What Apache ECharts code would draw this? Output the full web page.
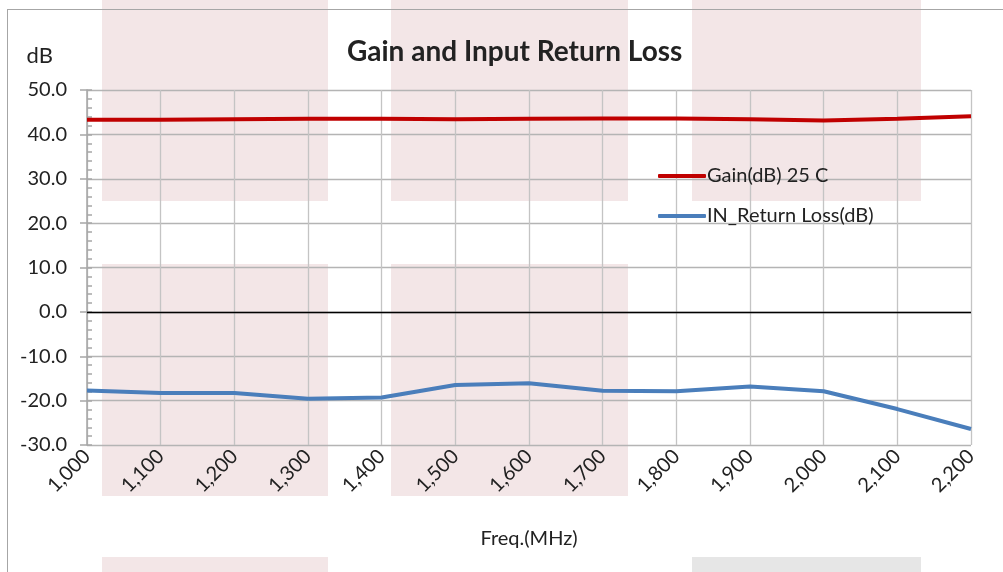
<!DOCTYPE html>
<html>
<head>
<meta charset="utf-8">
<script src="https://cdn.jsdelivr.net/npm/echarts@6/dist/echarts.min.js"></script>
<style>
html,body{margin:0;padding:0;background:#fff;overflow:hidden}
#wrap{position:relative;width:1003px;height:572px}
#c{width:1003px;height:572px}
#frame{position:absolute;left:7px;top:9px;width:1100px;height:700px;border-top:1.5px solid #a6a6a6;border-left:1.5px solid #a6a6a6;pointer-events:none;box-sizing:border-box}
</style>
</head>
<body>
<div id="wrap"><div id="c"></div><div id="frame"></div></div>
<script>
const freqs = [1000, 1100, 1200, 1300, 1400, 1500, 1600, 1700, 1800, 1900, 2000, 2100, 2200];
const gain = [43.3, 43.3, 43.4, 43.5, 43.5, 43.4, 43.5, 43.6, 43.6, 43.4, 43.1, 43.5, 44.1];
const returnLoss = [-17.7, -18.3, -18.3, -19.6, -19.3, -16.5, -16.1, -17.8, -17.9, -16.8, -17.9, -21.9, -26.4];
const seriesNames = ['Gain(dB) 25 C', 'IN_Return Loss(dB)'];
const titleText = 'Gain and Input Return Loss';
const yName = 'dB';
const xName = 'Freq.(MHz)';

const FONT = 'Lato, "Noto Sans", sans-serif';
const chart = echarts.init(document.getElementById('c'));
const pink = '#f3e6e7';
const bgRects = [
  [102, 0, 226, 201, pink], [391, 0, 237, 201, pink], [692, 0, 229, 201, pink],
  [102, 264, 226, 232, pink], [391, 264, 237, 232, pink],
  [102, 557, 226, 20, pink], [692, 557, 229, 20, '#e6e6e6']
];
const graphics = bgRects.map(r => ({
  type: 'rect', z: -10, silent: true,
  shape: {x: r[0], y: r[1], width: r[2], height: r[3]},
  style: {fill: r[4]}
}));

chart.setOption({
  backgroundColor: '#fff',
  animation: false,
  graphic: {elements: graphics},
  title: {text: titleText, left: 342, top: 33,
    textStyle: {fontFamily: FONT, fontWeight: 'bold', fontSize: 28, color: '#222'}},
  legend: {
    orient: 'vertical', left: 653, top: 161, itemGap: 20,
    icon: 'roundRect', itemWidth: 48, itemHeight: 4,
    textStyle: {fontFamily: FONT, fontSize: 20, color: '#222', padding: [0, 0, 0, -4]},
    data: seriesNames
  },
  grid: {left: 87, right: 32, top: 90, bottom: 127, containLabel: false, outerBoundsMode: 'none'},
  xAxis: {
    type: 'value', min: 1000, max: 2200, interval: 100,
    name: xName, nameLocation: 'middle', nameGap: 84,
    nameTextStyle: {fontFamily: FONT, fontSize: 20, color: '#222'},
    axisLine: {show: false}, axisTick: {show: false},
    axisLabel: {rotate: 45, margin: 8, fontFamily: FONT, fontSize: 20, color: '#222',
      formatter: v => v.toLocaleString('en-US')},
    splitLine: {show: true, lineStyle: {color: '#c4c4c4', width: 1.3}}
  },
  yAxis: [{
    type: 'value', min: -30, max: 50, interval: 10,
    name: yName, nameLocation: 'end', nameGap: 23,
    nameTextStyle: {fontFamily: FONT, fontSize: 22, color: '#222', align: 'right', padding: [0, 34, 0, 0]},
    axisLine: {show: true, lineStyle: {color: '#a6a6a6', width: 1.5}},
    axisTick: {show: true, length: 7, lineStyle: {color: '#a6a6a6', width: 1.5}},
    axisLabel: {fontFamily: FONT, fontSize: 20, color: '#222', margin: 20,
      formatter: v => v.toFixed(1)},
    splitLine: {show: true, lineStyle: {color: '#b4b4b4', width: 1.3}}
  }, {
    type: 'value', min: -30, max: 50, interval: 2, position: 'left',
    axisLine: {show: false},
    axisTick: {show: true, inside: true, length: 5, lineStyle: {color: '#a6a6a6', width: 1.5}},
    axisLabel: {show: false}, splitLine: {show: false}
  }],
  series: [{
    name: seriesNames[0], type: 'line', yAxisIndex: 0, symbol: 'none',
    data: freqs.map((f, i) => [f, gain[i]]),
    itemStyle: {color: '#c00000'},
    lineStyle: {color: '#c00000', width: 4},
    markLine: {silent: true, symbol: 'none', label: {show: false},
      lineStyle: {color: '#000', width: 1.3, type: 'solid'}, data: [{yAxis: 0}]}
  }, {
    name: seriesNames[1], type: 'line', yAxisIndex: 0, symbol: 'none',
    data: freqs.map((f, i) => [f, returnLoss[i]]),
    itemStyle: {color: '#4a7ebb'},
    lineStyle: {color: '#4a7ebb', width: 4}
  }]
});
</script>
</body>
</html>
